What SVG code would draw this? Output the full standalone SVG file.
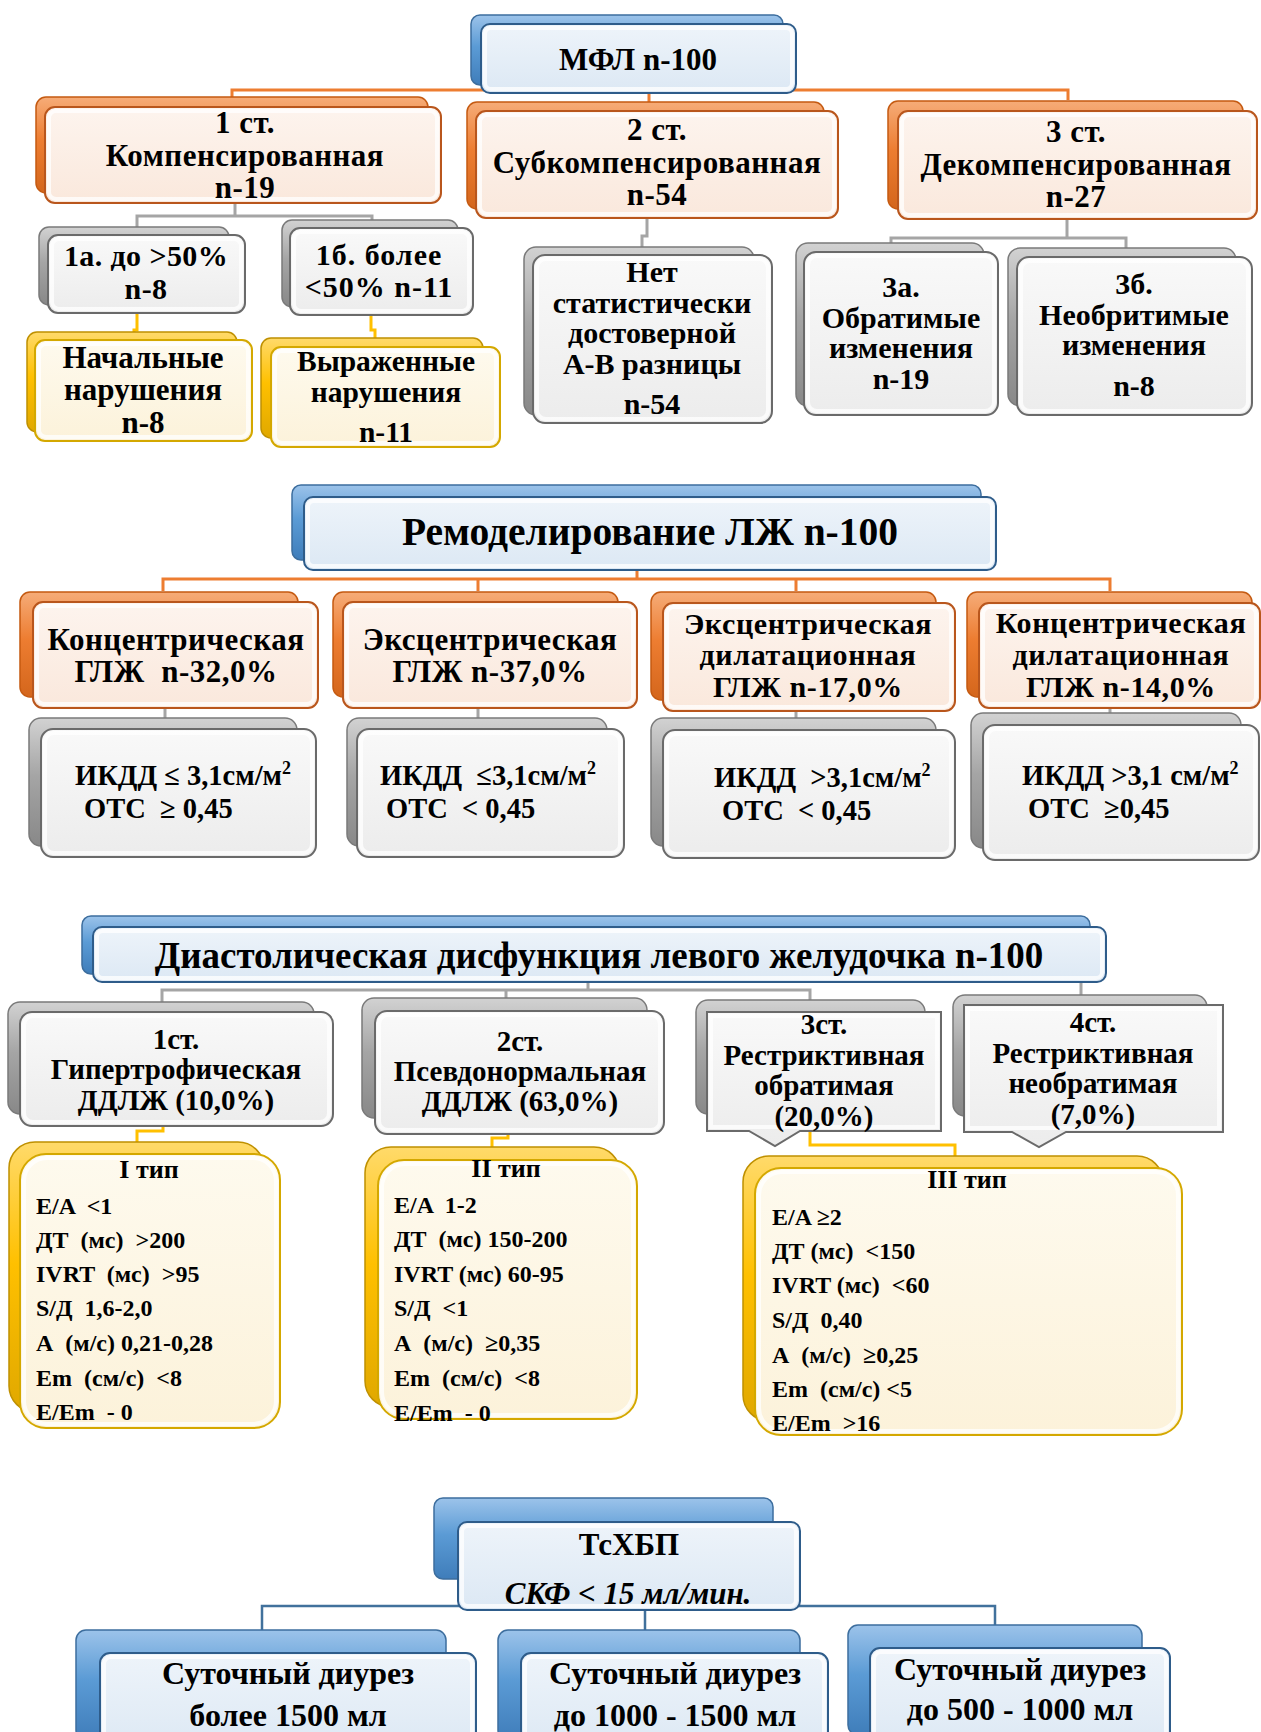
<svg xmlns="http://www.w3.org/2000/svg" width="1261" height="1732" viewBox="0 0 1261 1732">
<defs>
<linearGradient id="gBB" x1="0" y1="0" x2="0" y2="1"><stop offset="0" stop-color="#9CC3EA"/><stop offset=".45" stop-color="#5B9BD5"/><stop offset="1" stop-color="#3F7DBA"/></linearGradient>
<linearGradient id="gBF" x1="0" y1="0" x2="0" y2="1"><stop offset="0" stop-color="#EEF4FA"/><stop offset="1" stop-color="#DCE8F4"/></linearGradient>
<linearGradient id="gOB" x1="0" y1="0" x2="0" y2="1"><stop offset="0" stop-color="#F6AC78"/><stop offset=".45" stop-color="#ED7D31"/><stop offset="1" stop-color="#D4661C"/></linearGradient>
<linearGradient id="gOF" x1="0" y1="0" x2="0" y2="1"><stop offset="0" stop-color="#FDF4EE"/><stop offset="1" stop-color="#FAE8DC"/></linearGradient>
<linearGradient id="gGB" x1="0" y1="0" x2="0" y2="1"><stop offset="0" stop-color="#D2D2D2"/><stop offset=".45" stop-color="#A5A5A5"/><stop offset="1" stop-color="#888888"/></linearGradient>
<linearGradient id="gGF" x1="0" y1="0" x2="0" y2="1"><stop offset="0" stop-color="#F9F9F9"/><stop offset="1" stop-color="#ECECEC"/></linearGradient>
<linearGradient id="gYB" x1="0" y1="0" x2="0" y2="1"><stop offset="0" stop-color="#FFDA6A"/><stop offset=".45" stop-color="#FFC000"/><stop offset="1" stop-color="#E0A800"/></linearGradient>
<linearGradient id="gYF" x1="0" y1="0" x2="0" y2="1"><stop offset="0" stop-color="#FEFAEE"/><stop offset="1" stop-color="#FCF2DA"/></linearGradient>
</defs>
<style>
.bb{fill:url(#gBB);stroke:#3D6E9E;stroke-width:1.5}
.fb{fill:url(#gBF);stroke:#2E5C8A;stroke-width:2}
.bo{fill:url(#gOB);stroke:#C55A11;stroke-width:1.5}
.fo{fill:url(#gOF);stroke:#B9561C;stroke-width:2}
.bg{fill:url(#gGB);stroke:#7A7A7A;stroke-width:1.5}
.fg{fill:url(#gGF);stroke:#6A6A6A;stroke-width:2}
.by{fill:url(#gYB);stroke:#BF9000;stroke-width:1.5}
.fy{fill:url(#gYF);stroke:#D4A800;stroke-width:2}
.hl{fill:none;stroke:#fff;stroke-opacity:.75;stroke-width:4}
text{font-family:"Liberation Serif","Times New Roman",serif;font-weight:bold;fill:#000}
.c{text-anchor:middle}
.it{font-style:italic}
</style>
<rect width="1261" height="1732" fill="#fff"/>

<g id="connectors" fill="none" stroke-width="3">
<path stroke="#ED7D31" d="M232,97 V90 H1068 V100 M649,90 V107"/>
<path stroke="#A5A5A5" d="M235,203 V216 H137 V228 M235,216 H372 V222 M647,218 V236 H642 V247 M1067,219 V238 H891 V244 M1067,238 H1126 V249"/>
<path stroke="#FFC000" d="M137,313 V330 H134 V333 M371,315 V330 H375 V339"/>
<path stroke="#ED7D31" d="M637,570 V579 M163,591 V579 H1110 V591 M478,579 V591 M796,579 V591"/>
<path stroke="#A5A5A5" d="M165,708 V719 M478,708 V719 M796,711 V719 M1110,708 V714"/>
<path stroke="#A5A5A5" d="M588,982 V990 H162 V1002 M588,990 H810 V1000 M506,990 V998 M1081,982 V995"/>
<path stroke="#FFC000" d="M163,1126 V1131 H137 V1142 M508,1134 V1138 H492 V1147 M810,1131 V1145 H955 V1156"/>
<path stroke="#41719C" stroke-width="2.5" d="M262,1630 V1606 H995 V1625 M645,1606 V1630"/>
</g>

<g id="n-mfl"><rect class="bb" x="471" y="15" width="312" height="70" rx="9"/><rect class="fb" x="481" y="24" width="315" height="69" rx="9"/><rect class="hl" x="485" y="28" width="307" height="61" rx="6"/>
<text class="c" x="638" y="70" font-size="31">МФЛ n-100</text></g>

<g id="n-st1"><rect class="bo" x="36" y="97" width="392" height="96" rx="10"/><rect class="fo" x="45" y="107" width="396" height="96" rx="10"/><rect class="hl" x="49" y="111" width="388" height="88" rx="7"/>
<text class="c" font-size="31" letter-spacing=".5"><tspan x="245" y="133">1 ст.</tspan><tspan x="245" y="166">Компенсированная</tspan><tspan x="245" y="198">n-19</tspan></text></g>

<g id="n-st2"><rect class="bo" x="467" y="102" width="357" height="107" rx="10"/><rect class="fo" x="476" y="111" width="362" height="107" rx="10"/><rect class="hl" x="480" y="115" width="354" height="99" rx="7"/>
<text class="c" font-size="31" letter-spacing=".5"><tspan x="657" y="140">2 ст.</tspan><tspan x="657" y="173">Субкомпенсированная</tspan><tspan x="657" y="205">n-54</tspan></text></g>

<g id="n-st3"><rect class="bo" x="888" y="101" width="355" height="108" rx="10"/><rect class="fo" x="898" y="111" width="359" height="108" rx="10"/><rect class="hl" x="902" y="115" width="351" height="100" rx="7"/>
<text class="c" font-size="31" letter-spacing=".5"><tspan x="1076" y="142">3 ст.</tspan><tspan x="1076" y="175">Декомпенсированная</tspan><tspan x="1076" y="207">n-27</tspan></text></g>

<g id="n-1a"><rect class="bg" x="39" y="227" width="190" height="78" rx="10"/><rect class="fg" x="48" y="235" width="197" height="78" rx="10"/><rect class="hl" x="52" y="239" width="189" height="70" rx="7"/>
<text class="c" font-size="30" letter-spacing=".4"><tspan x="146" y="266">1а. до &gt;50%</tspan><tspan x="146" y="299">n-8</tspan></text></g>

<g id="n-1b"><rect class="bg" x="282" y="220" width="176" height="87" rx="10"/><rect class="fg" x="290" y="228" width="183" height="87" rx="10"/><rect class="hl" x="294" y="232" width="175" height="79" rx="7"/>
<text class="c" font-size="30" letter-spacing="1"><tspan x="379" y="265">1б. более</tspan><tspan x="379" y="297">&lt;50% n-11</tspan></text></g>

<g id="n-nach"><rect class="by" x="27" y="332" width="210" height="100" rx="10"/><rect class="fy" x="35" y="340" width="217" height="101" rx="10"/><rect class="hl" x="39" y="344" width="209" height="93" rx="7"/>
<text class="c" font-size="31"><tspan x="143" y="368">Начальные</tspan><tspan x="143" y="400">нарушения</tspan><tspan x="143" y="433">n-8</tspan></text></g>

<g id="n-vyr"><rect class="by" x="261" y="338" width="222" height="100" rx="10"/><rect class="fy" x="271" y="347" width="229" height="100" rx="10"/><rect class="hl" x="275" y="351" width="221" height="92" rx="7"/>
<text class="c" font-size="29.5"><tspan x="386" y="371">Выраженные</tspan><tspan x="386" y="402">нарушения</tspan><tspan x="386" y="442">n-11</tspan></text></g>

<g id="n-net"><rect class="bg" x="524" y="247" width="230" height="168" rx="12"/><rect class="fg" x="533" y="255" width="239" height="168" rx="12"/><rect class="hl" x="537" y="259" width="231" height="160" rx="9"/>
<text class="c" font-size="30"><tspan x="652" y="282">Нет</tspan><tspan x="652" y="313">статистически</tspan><tspan x="652" y="343">достоверной</tspan><tspan x="652" y="374">А-В разницы</tspan><tspan x="652" y="414">n-54</tspan></text></g>

<g id="n-3a"><rect class="bg" x="796" y="243" width="188" height="163" rx="12"/><rect class="fg" x="804" y="252" width="194" height="163" rx="12"/><rect class="hl" x="808" y="256" width="186" height="155" rx="9"/>
<text class="c" font-size="30"><tspan x="901" y="297">3а.</tspan><tspan x="901" y="328">Обратимые</tspan><tspan x="901" y="358">изменения</tspan><tspan x="901" y="389">n-19</tspan></text></g>

<g id="n-3b"><rect class="bg" x="1008" y="248" width="228" height="158" rx="12"/><rect class="fg" x="1017" y="257" width="235" height="158" rx="12"/><rect class="hl" x="1021" y="261" width="227" height="150" rx="9"/>
<text class="c" font-size="30"><tspan x="1134" y="294">3б.</tspan><tspan x="1134" y="325">Необритимые</tspan><tspan x="1134" y="355">изменения</tspan><tspan x="1134" y="396">n-8</tspan></text></g>

<g id="n-remod"><rect class="bb" x="292" y="485" width="689" height="75" rx="9"/><rect class="fb" x="304" y="497" width="692" height="73" rx="9"/><rect class="hl" x="308" y="501" width="684" height="65" rx="6"/>
<text class="c" x="650" y="545" font-size="39.5">Ремоделирование ЛЖ n-100</text></g>

<g id="n-k1"><rect class="bo" x="20" y="592" width="278" height="105" rx="10"/><rect class="fo" x="33" y="602" width="285" height="106" rx="10"/><rect class="hl" x="37" y="606" width="277" height="98" rx="7"/>
<text class="c" font-size="31" letter-spacing=".5" xml:space="preserve"><tspan x="176" y="650">Концентрическая</tspan><tspan x="176" y="682">ГЛЖ  n-32,0%</tspan></text></g>

<g id="n-k2"><rect class="bo" x="333" y="592" width="285" height="105" rx="10"/><rect class="fo" x="343" y="602" width="294" height="106" rx="10"/><rect class="hl" x="347" y="606" width="286" height="98" rx="7"/>
<text class="c" font-size="31" letter-spacing=".5"><tspan x="490" y="650">Эксцентрическая</tspan><tspan x="490" y="682">ГЛЖ n-37,0%</tspan></text></g>

<g id="n-k3"><rect class="bo" x="651" y="592" width="285" height="108" rx="10"/><rect class="fo" x="663" y="603" width="292" height="108" rx="10"/><rect class="hl" x="667" y="607" width="284" height="100" rx="7"/>
<text class="c" font-size="30" letter-spacing=".6"><tspan x="808" y="634">Эксцентрическая</tspan><tspan x="808" y="665">дилатационная</tspan><tspan x="808" y="697">ГЛЖ n-17,0%</tspan></text></g>

<g id="n-k4"><rect class="bo" x="967" y="592" width="285" height="105" rx="10"/><rect class="fo" x="979" y="603" width="281" height="105" rx="10"/><rect class="hl" x="983" y="607" width="273" height="97" rx="7"/>
<text class="c" font-size="30" letter-spacing=".6"><tspan x="1121" y="633">Концентрическая</tspan><tspan x="1121" y="665">дилатационная</tspan><tspan x="1121" y="697">ГЛЖ n-14,0%</tspan></text></g>

<g id="n-g1"><rect class="bg" x="29" y="718" width="268" height="128" rx="12"/><rect class="fg" x="41" y="729" width="275" height="128" rx="12"/><rect class="hl" x="45" y="733" width="267" height="120" rx="9"/>
<text font-size="28.5" xml:space="preserve"><tspan x="75" y="785">ИКДД ≤ 3,1см/м<tspan dy="-11" font-size="18">2</tspan></tspan><tspan x="84" y="818">ОТС  ≥ 0,45</tspan></text></g>

<g id="n-g2"><rect class="bg" x="347" y="718" width="260" height="128" rx="12"/><rect class="fg" x="357" y="729" width="267" height="128" rx="12"/><rect class="hl" x="361" y="733" width="259" height="120" rx="9"/>
<text font-size="28.5" xml:space="preserve"><tspan x="380" y="785">ИКДД  ≤3,1см/м<tspan dy="-11" font-size="18">2</tspan></tspan><tspan x="386" y="818">ОТС  &lt; 0,45</tspan></text></g>

<g id="n-g3"><rect class="bg" x="651" y="718" width="285" height="128" rx="12"/><rect class="fg" x="663" y="730" width="292" height="128" rx="12"/><rect class="hl" x="667" y="734" width="284" height="120" rx="9"/>
<text font-size="28.5" xml:space="preserve"><tspan x="714" y="787">ИКДД  &gt;3,1см/м<tspan dy="-11" font-size="18">2</tspan></tspan><tspan x="722" y="820">ОТС  &lt; 0,45</tspan></text></g>

<g id="n-g4"><rect class="bg" x="971" y="713" width="270" height="135" rx="12"/><rect class="fg" x="983" y="725" width="276" height="135" rx="12"/><rect class="hl" x="987" y="729" width="268" height="127" rx="9"/>
<text font-size="28.5" xml:space="preserve"><tspan x="1022" y="785">ИКДД &gt;3,1 см/м<tspan dy="-11" font-size="18">2</tspan></tspan><tspan x="1028" y="818">ОТС  ≥0,45</tspan></text></g>

<g id="n-dd"><rect class="bb" x="82" y="916" width="1008" height="58" rx="9"/><rect class="fb" x="93" y="927" width="1013" height="55" rx="9"/><rect class="hl" x="97" y="931" width="1005" height="47" rx="6"/>
<text class="c" x="599" y="968" font-size="37">Диастолическая дисфункция левого желудочка n-100</text></g>

<g id="n-d1"><rect class="bg" x="8" y="1002" width="306" height="112" rx="12"/><rect class="fg" x="20" y="1012" width="313" height="114" rx="12"/><rect class="hl" x="24" y="1016" width="305" height="106" rx="9"/>
<text class="c" font-size="29"><tspan x="176" y="1049">1ст.</tspan><tspan x="176" y="1079">Гипертрофическая</tspan><tspan x="176" y="1110">ДДЛЖ (10,0%)</tspan></text></g>

<g id="n-d2"><rect class="bg" x="362" y="998" width="285" height="120" rx="12"/><rect class="fg" x="375" y="1011" width="289" height="123" rx="12"/><rect class="hl" x="379" y="1015" width="281" height="115" rx="9"/>
<text class="c" font-size="29"><tspan x="520" y="1051">2ст.</tspan><tspan x="520" y="1081">Псевдонормальная</tspan><tspan x="520" y="1111">ДДЛЖ (63,0%)</tspan></text></g>

<g id="n-d3"><rect class="bg" x="696" y="1000" width="229" height="114" rx="12"/><path class="fg" d="M707,1012 H941 V1131 H800 L775,1146 L749,1131 H707 Z"/><path class="hl" d="M711,1016 H937 V1127 H711 Z"/>
<text class="c" font-size="29"><tspan x="824" y="1034">3ст.</tspan><tspan x="824" y="1065">Рестриктивная</tspan><tspan x="824" y="1095">обратимая</tspan><tspan x="824" y="1126">(20,0%)</tspan></text></g>

<g id="n-d4"><rect class="bg" x="953" y="995" width="254" height="121" rx="12"/><path class="fg" d="M964,1005 H1223 V1132 H1066 L1039,1147 L1012,1132 H964 Z"/><path class="hl" d="M968,1009 H1219 V1128 H968 Z"/>
<text class="c" font-size="29"><tspan x="1093" y="1032">4ст.</tspan><tspan x="1093" y="1063">Рестриктивная</tspan><tspan x="1093" y="1093">необратимая</tspan><tspan x="1093" y="1124">(7,0%)</tspan></text></g>

<g id="n-t1"><rect class="by" x="9" y="1142" width="255" height="270" rx="26"/><rect class="fy" x="20" y="1154" width="260" height="274" rx="26"/><rect class="hl" x="24" y="1158" width="252" height="266" rx="23"/>
<text class="c" x="149" y="1178" font-size="26">I тип</text>
<text font-size="24" xml:space="preserve"><tspan x="36" y="1214">E/A  &lt;1</tspan><tspan x="36" y="1248">ДТ  (мс)  &gt;200</tspan><tspan x="36" y="1282">IVRT  (мс)  &gt;95</tspan><tspan x="36" y="1316">S/Д  1,6-2,0</tspan><tspan x="36" y="1351">А  (м/с) 0,21-0,28</tspan><tspan x="36" y="1386">Em  (см/с)  &lt;8</tspan><tspan x="36" y="1420">E/Em  - 0</tspan></text></g>

<g id="n-t2"><rect class="by" x="365" y="1147" width="255" height="260" rx="26"/><rect class="fy" x="378" y="1160" width="259" height="259" rx="26"/><rect class="hl" x="382" y="1164" width="251" height="251" rx="23"/>
<text class="c" x="506" y="1177" font-size="26">II тип</text>
<text font-size="24" xml:space="preserve"><tspan x="394" y="1213">E/A  1-2</tspan><tspan x="394" y="1247">ДТ  (мс) 150-200</tspan><tspan x="394" y="1282">IVRT (мс) 60-95</tspan><tspan x="394" y="1316">S/Д  &lt;1</tspan><tspan x="394" y="1351">А  (м/с)  ≥0,35</tspan><tspan x="394" y="1386">Em  (см/с)  &lt;8</tspan><tspan x="394" y="1421">E/Em  - 0</tspan></text></g>

<g id="n-t3"><rect class="by" x="743" y="1156" width="420" height="265" rx="26"/><rect class="fy" x="755" y="1168" width="427" height="267" rx="26"/><rect class="hl" x="759" y="1172" width="419" height="259" rx="23"/>
<text class="c" x="967" y="1188" font-size="26">III тип</text>
<text font-size="24" xml:space="preserve"><tspan x="772" y="1225">E/A ≥2</tspan><tspan x="772" y="1259">ДТ (мс)  &lt;150</tspan><tspan x="772" y="1293">IVRT (мс)  &lt;60</tspan><tspan x="772" y="1328">S/Д  0,40</tspan><tspan x="772" y="1363">А  (м/с)  ≥0,25</tspan><tspan x="772" y="1397">Em  (см/с) &lt;5</tspan><tspan x="772" y="1431">E/Em  &gt;16</tspan></text></g>

<g id="n-ckd"><rect class="bb" x="434" y="1498" width="339" height="81" rx="9"/><rect class="fb" x="458" y="1522" width="342" height="88" rx="9"/><rect class="hl" x="462" y="1526" width="334" height="80" rx="6"/>
<text class="c" x="629" y="1555" font-size="31">ТсХБП</text>
<text class="c it" x="628" y="1604" font-size="31">СКФ &lt; 15 мл/мин.</text></g>

<g id="n-b1"><rect class="bb" x="76" y="1630" width="370" height="110" rx="10"/><rect class="fb" x="100" y="1653" width="376" height="100" rx="10"/><rect class="hl" x="104" y="1657" width="368" height="92" rx="7"/>
<text class="c" font-size="32"><tspan x="288" y="1684">Суточный диурез</tspan><tspan x="288" y="1726">более 1500 мл</tspan></text></g>

<g id="n-b2"><rect class="bb" x="498" y="1630" width="302" height="110" rx="10"/><rect class="fb" x="521" y="1653" width="307" height="100" rx="10"/><rect class="hl" x="525" y="1657" width="299" height="92" rx="7"/>
<text class="c" font-size="32"><tspan x="675" y="1684">Суточный диурез</tspan><tspan x="675" y="1726">до 1000 - 1500 мл</tspan></text></g>

<g id="n-b3"><rect class="bb" x="848" y="1625" width="294" height="110" rx="10"/><rect class="fb" x="870" y="1648" width="300" height="105" rx="10"/><rect class="hl" x="874" y="1652" width="292" height="97" rx="7"/>
<text class="c" font-size="32"><tspan x="1020" y="1680">Суточный диурез</tspan><tspan x="1020" y="1720">до 500 - 1000 мл</tspan></text></g>
</svg>
